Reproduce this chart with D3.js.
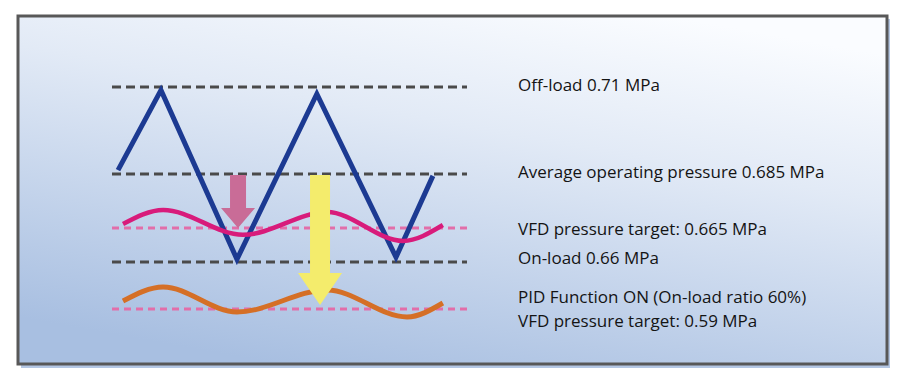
<!DOCTYPE html>
<html>
<head>
<meta charset="utf-8">
<script src="https://cdn.jsdelivr.net/npm/d3@7"></script>
<style>
  html, body { margin: 0; padding: 0; background: #fff; }
  svg { display: block; }
  .label { font-family: "Open Sans", "Noto Sans", sans-serif; font-size: 17px; fill: #141414; }
</style>
</head>
<body>
<svg id="chart" width="903" height="386"></svg>
<script>
// ---- data (schematic pressure diagram) ----
// reference pressure levels, MPa
const levelPressures = [0.71, 0.685, 0.665, 0.66, 0.59];
const targetLevels = [0.665, 0.59];           // drawn as pink dashes
const levelLabels = [
  ["Off-load 0.71 MPa"],
  ["Average operating pressure 0.685 MPa"],
  ["VFD pressure target: 0.665 MPa"],
  ["On-load 0.66 MPa"],
  ["PID Function ON (On-load ratio 60%)", "VFD pressure target: 0.59 MPa"]
];

// load / unload cycle (time units, MPa)
const cycleTime = [0.17, 1.38, 3.52, 5.77, 8.0, 9.04];
const cyclePressure = [0.6861, 0.7091, 0.6604, 0.708, 0.6607, 0.6843];

// VFD at 0.665 target
const vfdTime = [0.31, 1.44, 3.69, 6.06, 8.2, 9.32];
const vfdPressure = [0.6665, 0.6717, 0.664, 0.6709, 0.6631, 0.6661];

// PID function at 0.59 target
const pidTime = [0.31, 1.44, 3.52, 6.06, 8.31, 9.32];
const pidPressure = [0.6019, 0.6228, 0.5855, 0.6183, 0.5781, 0.5989];

// pressure drop arrows: [time, from, to]
const drops = [
  [3.55, 0.685, 0.665],
  [5.86, 0.685, 0.596]
];

// ---- layout ----
const svg = d3.select("#chart");

// the diagram is not to scale, so the axis is piecewise
const x = d3.scaleLinear().domain([0, 10]).range([112, 467]);
const y = d3.scaleLinear()
  .domain([0.59, 0.66, 0.665, 0.685, 0.71])
  .range([309, 262, 228, 174, 87]);

// background gradient
const defs = svg.append("defs");
const grad = defs.append("linearGradient")
  .attr("id", "bg").attr("x1", 0.75).attr("y1", 0).attr("x2", 0.3).attr("y2", 1);
grad.append("stop").attr("offset", 0).attr("stop-color", "#fafcff");
grad.append("stop").attr("offset", 0.35).attr("stop-color", "#e2eaf6");
grad.append("stop").attr("offset", 1).attr("stop-color", "#a8bfe1");

// frame + shadow
svg.append("rect")
  .attr("x", 21).attr("y", 19).attr("width", 869).attr("height", 349)
  .attr("fill", "#b4c7e4");
svg.append("rect")
  .attr("x", 18).attr("y", 16).attr("width", 869).attr("height", 348)
  .attr("fill", "url(#bg)")
  .attr("stroke", "#585858").attr("stroke-width", 3);

const g = svg.append("g");

// level lines
g.selectAll(".level")
  .data(levelPressures).enter().append("line")
  .attr("class", "level")
  .attr("x1", x(0)).attr("x2", x(10))
  .attr("y1", d => y(d)).attr("y2", d => y(d))
  .attr("stroke", d => targetLevels.includes(d) ? "#e26ea9" : "#4a4a4a")
  .attr("stroke-width", 3)
  .attr("stroke-dasharray", d => targetLevels.includes(d) ? "7,5" : "9,5");

const curve = d3.line()
  .x(d => x(d[0])).y(d => y(d[1]))
  .curve(d3.curveMonotoneX);

// orange PID wave
g.append("path")
  .datum(d3.zip(pidTime, pidPressure))
  .attr("d", curve)
  .attr("fill", "none").attr("stroke", "#d56f26").attr("stroke-width", 5);

// blue load/unload zigzag
g.append("path")
  .datum(d3.zip(cycleTime, cyclePressure))
  .attr("d", d3.line().x(d => x(d[0])).y(d => y(d[1])))
  .attr("fill", "none").attr("stroke", "#1c3a92").attr("stroke-width", 5)
  .attr("stroke-linejoin", "miter");

// magenta VFD wave
g.append("path")
  .datum(d3.zip(vfdTime, vfdPressure))
  .attr("d", curve)
  .attr("fill", "none").attr("stroke", "#d81b7b").attr("stroke-width", 4.5);

// arrows
const arrowSize = [
  { shaft: 16, head: 34, len: 20, color: "#c96c97" },
  { shaft: 20, head: 44, len: 32, color: "#f4ec6c" }
];
g.selectAll(".drop")
  .data(drops).enter().append("path")
  .attr("class", "drop")
  .attr("d", (d, i) => {
    const s = arrowSize[i];
    const cx = x(d[0]), y0 = y(d[1]) + 1, y1 = y(d[2]);
    const hy = y1 - s.len;
    return `M${cx - s.shaft / 2},${y0}H${cx + s.shaft / 2}V${hy}H${cx + s.head / 2}` +
      `L${cx},${y1}L${cx - s.head / 2},${hy}H${cx - s.shaft / 2}Z`;
  })
  .attr("fill", (d, i) => arrowSize[i].color);

// labels
const nudge = [4, 4, 7, 2, 0];
levelLabels.forEach((lines, i) => {
  const base = y(levelPressures[i]) + nudge[i];
  const t = g.append("text").attr("class", "label").attr("x", 518);
  lines.forEach((line, j) => {
    const off = lines.length > 1 ? (j - (lines.length - 1) / 2) * 24 + 6 : 0;
    t.append("tspan").attr("x", 518).attr("y", base + off).text(line);
  });
});
</script>
</body>
</html>
